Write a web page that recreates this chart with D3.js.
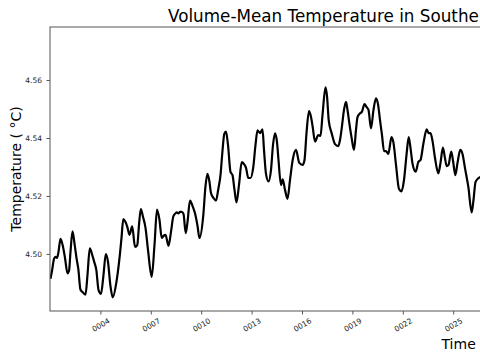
<!DOCTYPE html>
<html>
<head>
<meta charset="utf-8">
<script src="https://cdn.jsdelivr.net/npm/d3@7"></script>
<style>
  html, body { margin: 0; padding: 0; background: #fff; overflow: hidden; }
  svg { display: block; font-family: "DejaVu Sans", sans-serif; }
</style>
</head>
<body>
<svg id="chart" width="480" height="360"></svg>
<script>
// ---- data ----
const timeYears = [
  1.024,1.119,1.238,1.327,1.417,1.506,1.625,1.774,1.893,2.042,2.131,2.220,2.339,2.470,2.577,2.685,2.815,2.964,
  3.113,3.232,3.369,3.530,3.649,3.756,3.887,4.036,4.185,4.321,4.452,4.601,4.738,4.946,5.125,5.256,5.363,5.494,
  5.601,5.732,5.893,6.060,6.196,6.298,6.405,6.536,6.685,6.833,7.054,7.220,7.369,7.518,7.649,7.756,7.875,8.054,
  8.202,8.339,8.440,8.542,8.649,8.738,8.839,8.946,9.077,9.185,9.333,9.482,9.631,9.780,9.899,10.125,10.256,10.375,
  10.494,10.583,10.732,10.881,11.018,11.149,11.256,11.375,11.476,11.595,11.744,11.863,11.982,12.101,12.250,12.411,
  12.548,12.667,12.804,12.935,13.101,13.232,13.351,13.500,13.649,13.738,13.857,14.006,14.155,14.274,14.393,14.512,
  14.601,14.750,14.851,14.988,15.137,15.286,15.446,15.643,15.839,16.042,16.149,16.268,16.417,16.524,16.637,16.774,
  16.970,17.101,17.220,17.399,17.488,17.589,17.768,17.964,18.161,18.262,18.363,18.500,18.619,18.708,18.815,18.946,
  19.095,19.214,19.304,19.423,19.571,19.720,19.839,19.958,20.107,20.256,20.405,20.524,20.643,20.762,20.881,21.000,
  21.137,21.327,21.446,21.595,21.774,21.923,22.071,22.220,22.351,22.458,22.577,22.768,22.923,23.054,23.232,23.423,
  23.530,23.649,23.768,23.917,24.113,24.244,24.387,24.500,24.613,24.720,24.881,25.000,25.125,25.256,25.423,25.554,
  25.702,25.899,26.101,26.208,26.327,26.494,26.655,26.833
];
const temperature = [
  4.4914,4.4941,4.4983,4.4990,4.4986,4.5007,4.5052,4.5025,4.4986,4.4933,4.4941,4.5007,4.5078,4.5031,4.4986,4.4948,4.4876,4.4867,
  4.4859,4.4928,4.5019,4.4993,4.4969,4.4945,4.4876,4.4862,4.4928,4.4999,4.4972,4.4888,4.4850,4.4900,4.4979,4.5055,4.5120,4.5110,
  4.5093,4.5066,4.5095,4.5024,4.5031,4.5100,4.5155,4.5128,4.5090,4.5014,4.4921,4.5031,4.5153,4.5117,4.5055,4.5062,4.5066,4.5028,
  4.5076,4.5129,4.5138,4.5143,4.5140,4.5145,4.5145,4.5138,4.5072,4.5110,4.5184,4.5166,4.5140,4.5097,4.5055,4.5134,4.5234,4.5276,
  4.5248,4.5210,4.5193,4.5184,4.5224,4.5272,4.5348,4.5414,4.5422,4.5376,4.5283,4.5272,4.5221,4.5178,4.5238,4.5317,
  4.5310,4.5297,4.5262,4.5262,4.5300,4.5376,4.5426,4.5417,4.5430,4.5359,4.5276,4.5250,4.5290,4.5376,4.5416,4.5386,
  4.5324,4.5238,4.5257,4.5221,4.5190,4.5255,4.5324,4.5359,4.5314,4.5307,4.5324,4.5417,4.5493,4.5476,4.5438,4.5388,
  4.5410,4.5407,4.5479,4.5575,4.5545,4.5462,4.5416,4.5379,4.5372,4.5393,4.5433,4.5497,4.5525,4.5497,4.5452,4.5403,
  4.5359,4.5428,4.5472,4.5483,4.5491,4.5517,4.5507,4.5497,4.5433,4.5497,4.5537,4.5517,4.5462,4.5410,4.5355,4.5355,
  4.5345,4.5403,4.5383,4.5307,4.5224,4.5216,4.5255,4.5341,4.5403,4.5366,4.5312,4.5284,4.5317,4.5324,4.5383,4.5430,
  4.5417,4.5417,4.5390,4.5331,4.5278,4.5314,4.5367,4.5334,4.5303,4.5307,4.5353,4.5317,4.5272,4.5314,4.5359,4.5345,
  4.5296,4.5232,4.5143,4.5186,4.5248,4.5261,4.5266,4.5269
];
const xTickValues = [4, 7, 10, 13, 16, 19, 22, 25];
const xTickLabels = ["0004", "0007", "0010", "0013", "0016", "0019", "0022", "0025"];
const yTickValues = [4.50, 4.52, 4.54, 4.56];
const titleText = "Volume-Mean Temperature in Southern Ocean";
const xLabelText = "Time (years)";
const yLabelText = "Temperature ( \u00B0C)";

// ---- layout ----
const svg = d3.select("#chart");
const plotLeft = 50, plotTop = 27, plotBottom = 311, plotRight = 554;

const x = d3.scaleLinear().domain([1.0, 31.0]).range([plotLeft, plotRight]);
const y = d3.scaleLinear().domain([4.4803, 4.5783]).range([plotBottom, plotTop]);

const points = timeYears.map((t, i) => [t, temperature[i]]);

svg.append("defs").append("clipPath").attr("id", "plotclip")
  .append("rect").attr("x", plotLeft).attr("y", plotTop)
  .attr("width", plotRight - plotLeft).attr("height", plotBottom - plotTop);

// data line
svg.append("path")
  .datum(points)
  .attr("clip-path", "url(#plotclip)")
  .attr("fill", "none")
  .attr("stroke", "#000")
  .attr("stroke-width", 2.2)
  .attr("stroke-linejoin", "round")
  .attr("d", d3.line().x(d => x(d[0])).y(d => y(d[1])).curve(d3.curveMonotoneX));

// axes
const xAxis = d3.axisBottom(x).tickValues(xTickValues)
  .tickFormat((d, i) => xTickLabels[i]).tickSizeOuter(0).tickSize(3.5);
const gx = svg.append("g").attr("transform", `translate(0,${plotBottom})`).call(xAxis);
gx.select(".domain").remove();
gx.selectAll(".tick line").attr("stroke", "#555");
gx.selectAll(".tick text")
  .attr("font-family", "DejaVu Sans")
  .attr("font-size", 7.5)
  .attr("fill", "#222")
  .attr("text-anchor", "middle")
  .attr("dy", null)
  .attr("y", null)
  .attr("dominant-baseline", "central")
  .attr("transform", "translate(0,14) rotate(-30)");

const yAxis = d3.axisLeft(y).tickValues(yTickValues)
  .tickFormat(d3.format(".2f")).tickSizeOuter(0).tickSize(3.5);
const gy = svg.append("g").attr("transform", `translate(${plotLeft},0)`).call(yAxis);
gy.select(".domain").remove();
gy.selectAll(".tick line").attr("stroke", "#555");
gy.selectAll(".tick text")
  .attr("font-family", "DejaVu Sans")
  .attr("font-size", 7.5)
  .attr("fill", "#222")
  .attr("x", -8);

// spines
svg.append("rect")
  .attr("x", plotLeft).attr("y", plotTop)
  .attr("width", plotRight - plotLeft).attr("height", plotBottom - plotTop)
  .attr("fill", "none").attr("stroke", "#555").attr("stroke-width", 1);

// title and labels (cut off at the right edge, as in the reference)
svg.append("text")
  .attr("x", 168).attr("y", 22)
  .attr("font-size", 16.8).attr("fill", "#000")
  .text(titleText);

svg.append("text")
  .attr("x", 441.5).attr("y", 349)
  .attr("font-size", 14).attr("fill", "#000")
  .text(xLabelText);

svg.append("text")
  .attr("transform", `translate(20.5,${(plotTop + plotBottom) / 2}) rotate(-90)`)
  .attr("text-anchor", "middle")
  .attr("font-size", 14).attr("fill", "#000")
  .text(yLabelText);
</script>
</body>
</html>
